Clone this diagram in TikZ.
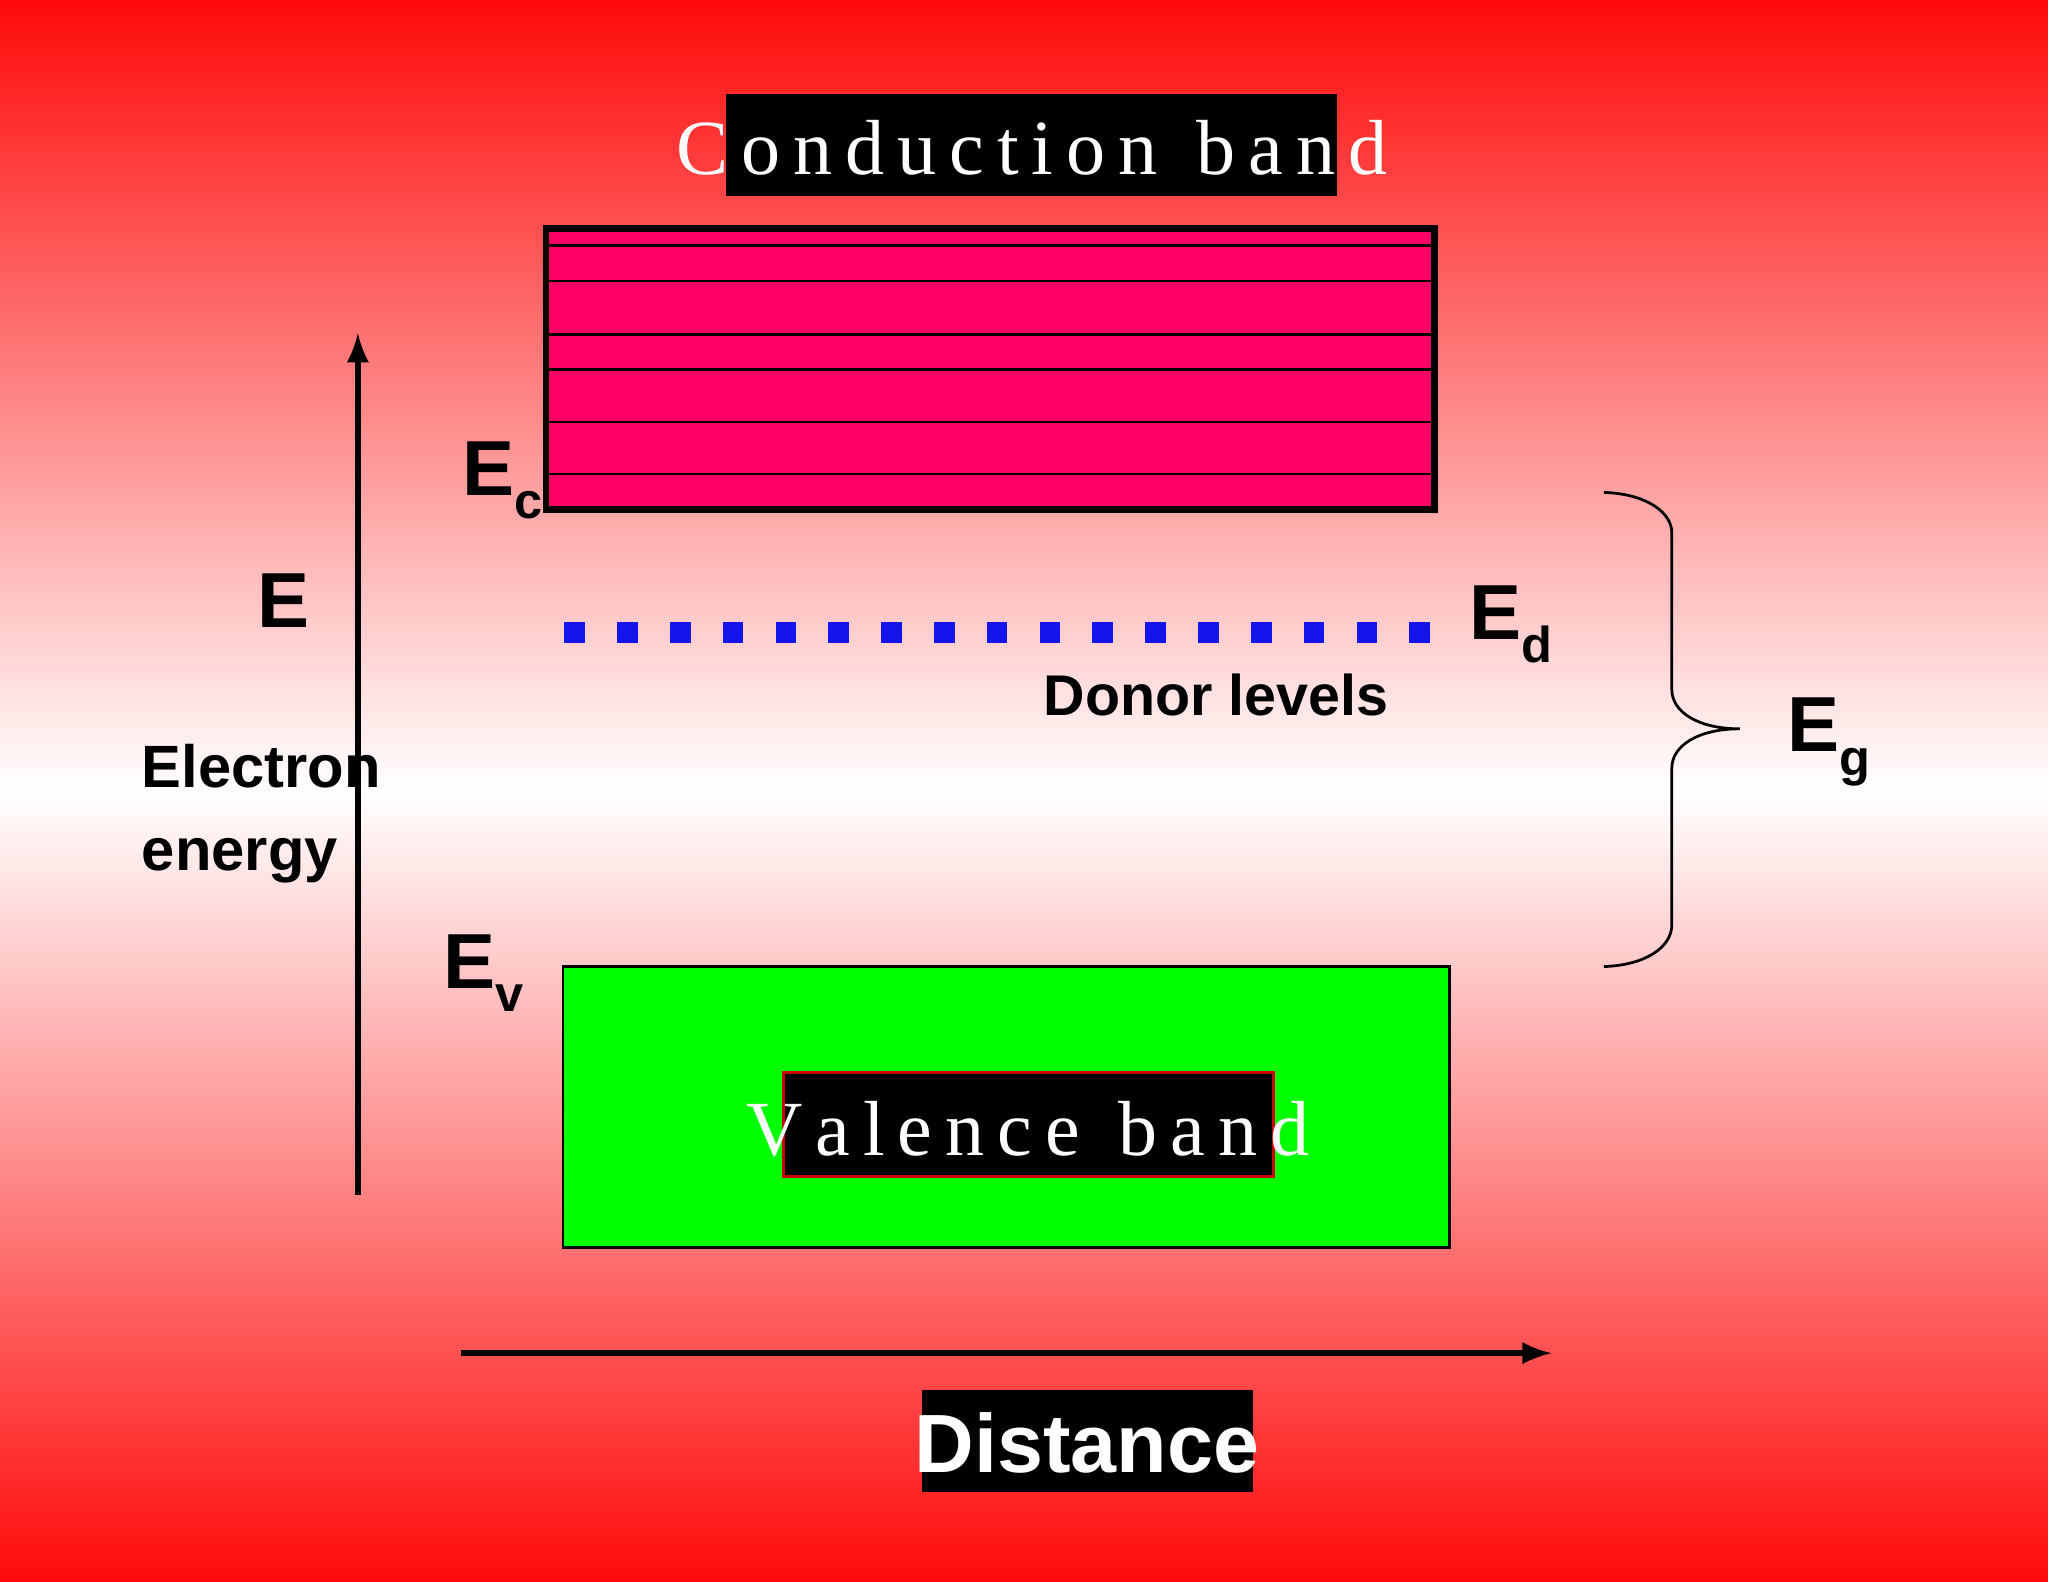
\documentclass[tikz,border=0pt]{standalone}
\usepackage{fontspec}
\setmainfont{Liberation Serif}
\setsansfont{Liberation Sans}
\definecolor{bgred}{RGB}{255,10,10}
\definecolor{pinkband}{RGB}{255,0,102}
\definecolor{greenband}{RGB}{0,255,0}
\definecolor{dotblue}{RGB}{20,20,235}
\tikzset{
  lbl/.style={font=\sffamily\bfseries, inner sep=0pt},
  bigE/.style={font=\sffamily\bfseries\fontsize{17}{20}\selectfont, inner sep=0pt},
  titlebox/.style={fill=black, text=white, font=\fontsize{17}{20}\selectfont, inner sep=0pt},
  arr/.style={line width=1.2pt, -latex}
}
\begin{document}
\begin{tikzpicture}[x=0.01cm,y=-0.01cm]
\useasboundingbox (0,0) rectangle (1568,1211);
\shade[top color=bgred, bottom color=white] (0,0) rectangle (1568,605);
\shade[top color=white, bottom color=bgred] (0,605) rectangle (1568,1211);
% conduction band title
\fill[black] (556,72) rectangle (1024,150);
\node[titlebox, fill=none] (cbt) at (790,113) {C\,o\,n\,d\,u\,c\,t\,i\,o\,n~~b\,a\,n\,d};
% conduction band
\draw[fill=pinkband, line width=1.5pt] (418,175) rectangle (1098,390);
\foreach \yy in {188,215,256,283,323,363} \draw[line width=0.5pt] (419,\yy) -- (1097,\yy);
\node[bigE] (ec) at (385,368) {E\raisebox{-0.3em}{\fontsize{11}{12}\selectfont c}};
% energy axis
\coordinate (eb) at (274,915); \coordinate (et) at (274,255);
\draw[arr] (eb) -- (et);
\node[bigE] (E) at (217,460) {E};
\node[lbl, align=left, font=\sffamily\bfseries\fontsize{13}{18}\selectfont, anchor=west] (ee) at (108,623) {Electron\\energy};
% donor levels
\coordinate (d1) at (432,484); \coordinate (d2) at (1106,484);
\draw[dotblue, line width=4.5pt, dash pattern=on 4.5pt off 7pt] (d1) -- (d2);
\node[bigE] (ed) at (1157,478) {E\raisebox{-0.3em}{\fontsize{11}{12}\selectfont d}};
\node[lbl, font=\sffamily\bfseries\fontsize{12.5}{14}\selectfont] (dl) at (931,532) {Donor levels};
% brace
\draw[line width=0.6pt] (1228,377) .. controls (1260,378) and (1280,392) .. (1280,408) -- (1280,528)
  .. controls (1280,545) and (1300,558) .. (1332,558)
  .. controls (1300,558) and (1280,571) .. (1280,588) -- (1280,708)
  .. controls (1280,725) and (1260,739) .. (1228,740);
\node[bigE] (eg) at (1400,568) {E\raisebox{-0.3em}{\fontsize{11}{12}\selectfont g}};
% valence band
\node[bigE] (ev) at (370,745) {E\raisebox{-0.3em}{\fontsize{11}{12}\selectfont v}};
\draw[fill=greenband, line width=0.6pt] (431,740) rectangle (1110,955);
\draw[fill=black, draw=red!80!black, line width=0.6pt] (600,821) rectangle (975,901);
\node[titlebox, fill=none] (vbt) at (787,864) {V\,a\,l\,e\,n\,c\,e~~b\,a\,n\,d};
% distance axis
\coordinate (dl1) at (353,1036); \coordinate (dl2) at (1188,1036);
\draw[arr] (dl1) -- (dl2);
\fill[black] (706,1064) rectangle (959,1142);
\node[lbl, text=white, font=\sffamily\bfseries\fontsize{18}{20}\selectfont] (dist) at (832,1105) {Distance};
\end{tikzpicture}
\end{document}
